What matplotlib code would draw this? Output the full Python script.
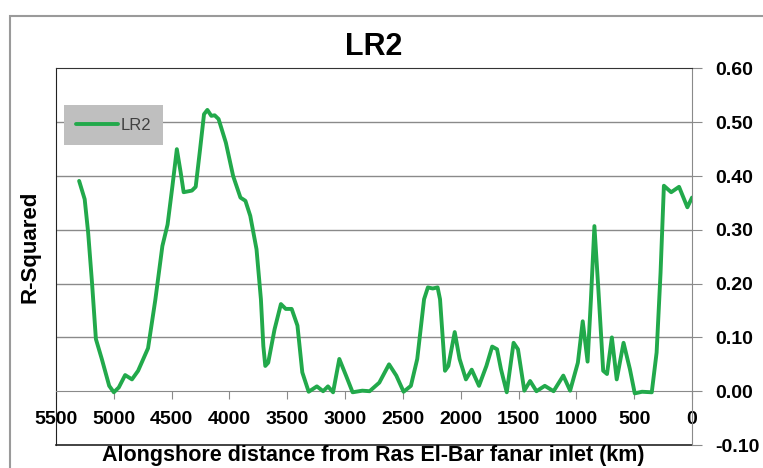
import matplotlib.pyplot as plt
from matplotlib.patches import Rectangle

# distance along shore (km) and R-squared values
dist = [5300, 5252, 5222, 5188, 5155, 5104, 5040, 5000, 4957, 4902, 4843, 4790,
        4704, 4641, 4580, 4535, 4494, 4455, 4422, 4396, 4325, 4292, 4254, 4220,
        4191, 4157, 4128, 4094, 4031, 3968, 3905, 3862, 3820, 3766, 3728, 3707,
        3690, 3665, 3610, 3555, 3513, 3462, 3412, 3370, 3315, 3244, 3190, 3148,
        3104, 3050, 2990, 2935, 2851, 2788, 2704, 2620, 2557, 2494, 2431, 2376,
        2317, 2284, 2242, 2200, 2179, 2136, 2107, 2052, 2010, 1955, 1905, 1842,
        1778, 1728, 1686, 1652, 1602, 1543, 1505, 1450, 1400, 1345, 1273, 1197,
        1113, 1054, 987, 945, 903, 874, 844, 810, 768, 735, 693, 651, 592, 537,
        495, 432, 348, 306, 272, 243, 180, 112, 40, 0]
r2 = [0.391, 0.357, 0.295, 0.200, 0.097, 0.060, 0.010, -0.002, 0.007, 0.030,
      0.022, 0.038, 0.080, 0.170, 0.270, 0.310, 0.380, 0.450, 0.407, 0.370,
      0.373, 0.380, 0.450, 0.515, 0.523, 0.512, 0.513, 0.506, 0.462, 0.400,
      0.360, 0.354, 0.326, 0.264, 0.171, 0.084, 0.047, 0.053, 0.115, 0.162,
      0.153, 0.153, 0.122, 0.035, -0.001, 0.009, 0.000, 0.009, -0.002, 0.060,
      0.028, -0.002, 0.001, 0.000, 0.016, 0.050, 0.029, -0.001, 0.010, 0.060,
      0.171, 0.193, 0.191, 0.193, 0.171, 0.038, 0.047, 0.110, 0.060, 0.022,
      0.040, 0.010, 0.047, 0.083, 0.078, 0.041, -0.002, 0.090, 0.078, 0.001,
      0.019, 0.000, 0.010, 0.000, 0.029, 0.001, 0.053, 0.130, 0.055, 0.171,
      0.307, 0.190, 0.038, 0.032, 0.100, 0.022, 0.090, 0.041, -0.004, -0.001,
      -0.002, 0.072, 0.220, 0.382, 0.370, 0.380, 0.342, 0.360]

xticks = [5500, 5000, 4500, 4000, 3500, 3000, 2500, 2000, 1500, 1000, 500, 0]
yticks = [-0.10, 0.00, 0.10, 0.20, 0.30, 0.40, 0.50, 0.60]

green = '#22a94b'
font = ['Liberation Sans', 'DejaVu Sans']

fig = plt.figure(figsize=(7.63, 4.68), dpi=100)
fig.patches.append(Rectangle((10 / 763, -0.1), 1.2, 1 - 16 / 468 + 0.1,
                             transform=fig.transFigure, fill=False,
                             edgecolor='#9a9a9a', lw=1.5))
ax = fig.add_axes([56 / 763, 1 - 445 / 468, 636 / 763, 376.5 / 468])

for y in yticks[2:-1]:
    ax.axhline(y, color='#8a8a8a', lw=1, zorder=1)

ax.plot(dist, r2, color=green, lw=2.8, solid_joinstyle='round',
        solid_capstyle='round', label='LR2', zorder=3)

ax.set_xlim(5500, 0)
ax.set_ylim(-0.10, 0.60)

# x axis sits at y = 0
ax.spines['bottom'].set_position(('data', 0))
ax.spines['bottom'].set_color('#8a8a8a')
ax.spines['top'].set_color('#333333')
ax.spines['left'].set_color('#222222')
ax.spines['right'].set_color('#8a8a8a')
ax.plot([0, 1], [0, 0], transform=ax.transAxes, color='#222222', lw=1.2,
        clip_on=False)

ax.set_xticks(xticks)
ax.set_xticklabels([str(t) for t in xticks], family=font,
                   fontweight='bold', fontsize=14)
ax.tick_params(axis='x', direction='out', length=6, color='#8a8a8a', pad=8)

ax.yaxis.tick_right()
ax.set_yticks(yticks)
ax.set_yticklabels([f'{t:.2f}' for t in yticks], family=font,
                   fontweight='bold', fontsize=14)
ax.tick_params(axis='y', direction='out', length=7, color='#8a8a8a', pad=10)

ax.set_title('LR2', family=font, fontweight='bold', fontsize=22, pad=10)
fig.text(30 / 763, 1 - 247 / 468, 'R-Squared', rotation=90, ha='center',
         va='center', fontsize=16, fontweight='bold', family=font)
fig.text(373 / 763, 1 - 456 / 468,
         'Alongshore distance from Ras El-Bar fanar inlet (km)', ha='center',
         va='center', fontsize=15.5, fontweight='bold', family=font)

leg = ax.legend(loc='upper left', bbox_to_anchor=(0.012, 0.903),
                borderaxespad=0, handlelength=2.5, handletextpad=0.15,
                borderpad=0.75, fancybox=False, facecolor='#bfbfbf',
                edgecolor='none', framealpha=1,
                prop={'family': font, 'size': 12})
for t in leg.get_texts():
    t.set_color('#404040')

fig.savefig('out.png', dpi=100)
